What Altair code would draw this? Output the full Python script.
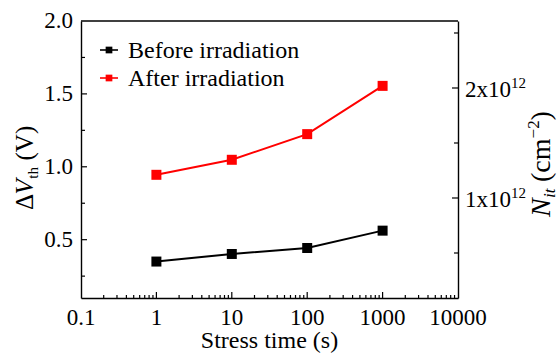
import altair as alt
import pandas as pd

# Stress time (s) and threshold-voltage shift (V)
stress_time = [1, 10, 100, 1000]
dvth_before = [0.350, 0.402, 0.443, 0.562]
dvth_after = [0.945, 1.048, 1.224, 1.555]
series_names = ["Before irradiation", "After irradiation"]
series_colors = ["#000000", "#ff0000"]

# Tick positions and their labels
x_label_vals = [0.1, 1, 10, 100, 1000, 10000]
x_label_text = ["0.1", "1", "10", "100", "1000", "10000"]
y_label_vals = [0.5, 1.0, 1.5, 2.0]
y_label_text = ["0.5", "1.0", "1.5", "2.0"]
nit_label_vals = [1e12, 2e12]
nit_label_mant = ["1x10", "2x10"]
nit_label_exp = ["12", "12"]
x_major = [1, 10, 100, 1000]
x_minor = [m * 10.0 ** k for k in range(-1, 4) for m in range(2, 10)]
y_major = [0.5, 1.0, 1.5]
y_minor = [0.25, 0.75, 1.25, 1.75]
nit_major = [1e12, 2e12]
nit_minor = [0.5e12, 1.5e12, 2.5e12]

W, H = 377, 277
SERIF = "Liberation Serif"
TICK_FS = 23

df = pd.DataFrame({
    "time": stress_time * 2,
    "dvth": dvth_before + dvth_after,
    "series": [series_names[0]] * 4 + [series_names[1]] * 4,
})

xs = alt.Scale(type="log", domain=[0.1, 10000], nice=False)
ys = alt.Scale(domain=[0.1, 2.0], nice=False, zero=False)
ns = alt.Scale(domain=[0.0909e12, 2.609e12], nice=False, zero=False)
cs = alt.Scale(domain=series_names, range=series_colors)

# Axes only draw the frame lines; their text is drawn with text marks below
frame = dict(labels=False, ticks=False, grid=False, title=None, domain=True,
             domainColor="black", domainWidth=1.4)
x_axis = alt.Axis(**frame)
y_axis = alt.Axis(**frame)
nit_axis = alt.Axis(orient="right", **frame)

base = alt.Chart(df)
lines = base.mark_line(strokeWidth=2).encode(
    x=alt.X("time:Q", scale=xs, axis=x_axis),
    y=alt.Y("dvth:Q", scale=ys, axis=y_axis),
    color=alt.Color("series:N", scale=cs, legend=None),
    detail="series:N",
)
points = base.mark_point(shape="square", filled=True, size=100, opacity=1).encode(
    x=alt.X("time:Q", scale=xs, axis=x_axis),
    y=alt.Y("dvth:Q", scale=ys, axis=y_axis),
    color=alt.Color("series:N", scale=cs, legend=None),
)


def hticks(vals, scale, axis, x0, x1):
    return alt.Chart(pd.DataFrame({"v": vals})).mark_rule(color="black", strokeWidth=1.2).encode(
        y=alt.Y("v:Q", scale=scale, axis=axis), x=alt.value(x0), x2=alt.value(x1)
    )


def vticks(vals, length):
    return alt.Chart(pd.DataFrame({"v": vals})).mark_rule(color="black", strokeWidth=1.2).encode(
        x=alt.X("v:Q", scale=xs, axis=x_axis), y=alt.value(H), y2=alt.value(H - length)
    )


def txt(size, italic=False, **kw):
    return dict(font=SERIF, fontSize=size, fontStyle="italic" if italic else "normal",
                color="black", **kw)


def piece(s, x, y, size, italic=False):
    return alt.Chart(pd.DataFrame({"t": [s]})).mark_text(
        **txt(size, italic, angle=270, align="left", baseline="alphabetic")
    ).encode(text="t:N", x=alt.value(x), y=alt.value(y))


# Tick labels
x_labels = alt.Chart(pd.DataFrame({"v": x_label_vals, "t": x_label_text})).mark_text(
    **txt(TICK_FS, align="center", baseline="alphabetic")
).encode(x=alt.X("v:Q", scale=xs, axis=x_axis), y=alt.value(H + 27), text="t:N")

y_labels = alt.Chart(pd.DataFrame({"v": y_label_vals, "t": y_label_text})).mark_text(
    **txt(TICK_FS, align="right", baseline="alphabetic", dy=7)
).encode(y=alt.Y("v:Q", scale=ys, axis=y_axis), x=alt.value(-8), text="t:N")

nit_df = pd.DataFrame({"v": nit_label_vals, "m": nit_label_mant, "e": nit_label_exp})
nit_mant = alt.Chart(nit_df).mark_text(
    **txt(TICK_FS, align="left", baseline="alphabetic", dy=9)
).encode(y=alt.Y("v:Q", scale=ns, axis=nit_axis), x=alt.value(W + 7), text="m:N")
nit_exp = alt.Chart(nit_df).mark_text(
    **txt(15, align="left", baseline="alphabetic", dy=0)
).encode(y=alt.Y("v:Q", scale=ns, axis=nit_axis), x=alt.value(W + 7 + 2 * TICK_FS), text="e:N")

x_title = alt.Chart(pd.DataFrame({"t": ["Stress time (s)"]})).mark_text(
    **txt(24, align="center", baseline="alphabetic")
).encode(x=alt.value(W / 2), y=alt.value(H + 50), text="t:N")

# Top edge of the frame
top_edge = alt.Chart(pd.DataFrame({"t": [0]})).mark_rule(color="black", strokeWidth=1.4).encode(
    x=alt.value(0), x2=alt.value(W), y=alt.value(0)
)

# Legend: dash-square-dash key and a label for each series
legend_layers = []
for i, name in enumerate(series_names):
    row_y = 29 + 28 * i
    row = alt.Chart(pd.DataFrame({"series": [name]}))
    legend_layers += [
        row.mark_rule(strokeWidth=1.6).encode(
            x=alt.value(19), x2=alt.value(37), y=alt.value(row_y),
            color=alt.Color("series:N", scale=cs, legend=None)),
        row.mark_point(shape="square", filled=True, size=45, opacity=1).encode(
            x=alt.value(28), y=alt.value(row_y),
            color=alt.Color("series:N", scale=cs, legend=None)),
        row.mark_text(**txt(24, align="left", baseline="alphabetic")).encode(
            x=alt.value(47), y=alt.value(row_y + 8), text="series:N"),
    ]

# Left axis title: ΔV_th (V)
F1 = 25
left_title = [
    piece("Δ", -48, 189, F1),
    piece("V", -48, 189 - 0.62 * F1, F1, italic=True),
    piece("th", -43, 189 - 1.25 * F1, 15),
    piece("(V)", -48, 189 - 1.25 * F1 - 12 - 0.25 * F1, F1),
]

# Right axis title: N_it (cm^-2)
F2 = 28
rx = 469
ry = 196
right_title = [
    piece("N", rx, ry, F2, italic=True),
    piece("it", rx + 5, ry - 0.68 * F2, 17, italic=True),
    piece("(cm", rx, ry - 0.68 * F2 - 9 - 0.25 * F2, F2),
    piece("−2", rx - 11, ry - 0.68 * F2 - 9 - 1.805 * F2, 17),
    piece(")", rx, ry - 0.68 * F2 - 9 - 1.805 * F2 - 18, F2),
]

left_part = alt.layer(
    lines, points,
    hticks(y_major, ys, y_axis, 0, 6), hticks(y_minor, ys, y_axis, 0, 4),
    vticks(x_major, 6), vticks(x_minor, 3), top_edge,
    x_labels, y_labels, x_title,
    *legend_layers, *left_title,
)

right_part = alt.layer(
    hticks(nit_major, ns, nit_axis, W, W - 6),
    hticks(nit_minor, ns, nit_axis, W, W - 4),
    nit_mant, nit_exp,
    *right_title,
)

chart = (
    alt.layer(left_part, right_part)
    .resolve_scale(y="independent")
    .properties(
        width=W, height=H, autosize=alt.AutoSizeParams(type="none"),
        padding={"left": 81, "top": 21, "right": 102, "bottom": 58},
        background="white",
    )
    .configure_view(stroke=None)
)

chart.save("out.html", embed_options={"renderer": "svg", "actions": False})
